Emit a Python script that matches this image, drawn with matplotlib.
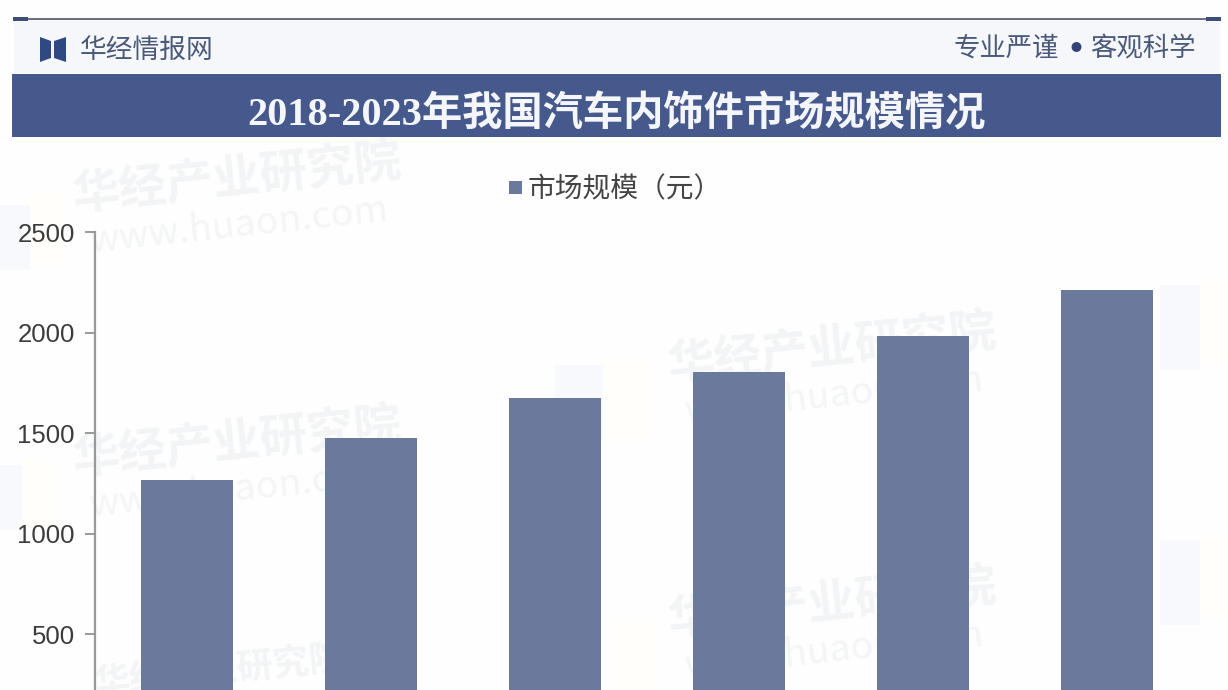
import matplotlib
matplotlib.use('Agg')
import matplotlib.pyplot as plt
from matplotlib.patches import Polygon, Rectangle

plt.rcParams['font.family'] = ['Noto Sans CJK SC', 'DejaVu Sans']

market_size = [1268, 1477, 1677, 1806, 1985, 2214]
y_ticks = [500, 1000, 1500, 2000, 2500]

title = '2018-2023年我国汽车内饰件市场规模情况'
legend_label = '市场规模（元）'

W, H = 1228, 690


def fx(x):
    return x / W


def fy(y):
    return 1 - y / H


fig = plt.figure(figsize=(W / 100, H / 100), dpi=100, facecolor='#fefefe')

# faint watermark blocks and text behind the chart
for x, y, w, h, c in [(0, 205, 30, 65, '#f7f9fd'), (30, 190, 30, 75, '#fffefa'),
                      (0, 465, 22, 65, '#f7f9fd'), (22, 460, 30, 70, '#fffefa'),
                      (555, 365, 48, 75, '#f7f9fd'), (603, 360, 45, 80, '#fffefa'),
                      (1160, 285, 40, 85, '#f7f9fd'), (1200, 280, 28, 85, '#fffefa'),
                      (1160, 540, 40, 85, '#f7f9fd'), (1200, 535, 28, 85, '#fffefa'),
                      (610, 620, 45, 70, '#fffefa')]:
    fig.add_artist(Rectangle((fx(x), fy(y + h)), w / W, h / H, color=c, lw=0, zorder=-2))

for x, y in [(237, 178), (237, 442), (832, 348), (832, 603)]:
    fig.text(fx(x), fy(y), '华经产业研究院', color='#f3f4f6', fontsize=34, fontweight='bold',
             rotation=6, ha='center', va='center', zorder=-1)
    fig.text(fx(x + 3), fy(y + 48), 'www.huaon.com', color='#f4f5f7', fontsize=27,
             rotation=6, ha='center', va='center', zorder=-1)
fig.text(fx(220), fy(672), '华经产业研究院', color='#f3f4f6', fontsize=26, fontweight='bold',
         rotation=6, ha='center', va='center', zorder=-1)

# header
fig.add_artist(Rectangle((fx(14), fy(73)), 1206 / W, 53 / H, color='#f6f7fb', lw=0))
fig.add_artist(Rectangle((fx(12), fy(137)), 1209 / W, 63 / H, color='#46598c', lw=0))
fig.add_artist(Rectangle((fx(14), fy(20)), 1206 / W, 2 / H, color='#6b7080', lw=0))
fig.add_artist(Rectangle((fx(13), fy(21)), 15 / W, 4 / H, color='#3d4d78', lw=0))
fig.add_artist(Rectangle((fx(1206), fy(21)), 15 / W, 4 / H, color='#3d4d78', lw=0))

# book icon
fig.add_artist(Polygon([(fx(40), fy(37)), (fx(51), fy(41)), (fx(51), fy(58)), (fx(40), fy(62))],
                       color='#2f4a80', lw=0))
fig.add_artist(Polygon([(fx(66), fy(37)), (fx(54), fy(41)), (fx(54), fy(58)), (fx(66), fy(62))],
                       color='#2f4a80', lw=0))

fig.text(fx(80), fy(50), '华经情报网', color='#4b5a78', fontsize=19.3, ha='left', va='center')
fig.text(fx(1059), fy(48), '专业严谨', color='#4b5a78', fontsize=19, ha='right', va='center')
fig.text(fx(1076), fy(48), '●', color='#34427a', fontsize=8, ha='center', va='center')
fig.text(fx(1196), fy(48), '客观科学', color='#4b5a78', fontsize=19, ha='right', va='center')
fig.text(fx(616), fy(115), title, color='#f4f6fb', fontsize=29, fontweight='bold',
         family=['Liberation Serif', 'Noto Sans CJK SC'], ha='center', va='center')

# chart axes run past the bottom of the picture, as in the source
ax = fig.add_axes([fx(94.5), fy(735), (1199 - 94.5) / W, (735 - 232) / H])
ax.patch.set_alpha(0)
positions = list(range(len(market_size)))
ax.bar(positions, market_size, width=0.5, color='#6b7a9c')
ax.set_xlim(-0.5, 5.5)
ax.set_ylim(0, 2500)
ax.set_yticks(y_ticks)
ax.set_xticks([])
ax.tick_params(axis='y', length=7.2, width=1.4, color='#999999', labelcolor='#3c3c3c',
               labelsize=18.5, pad=7)
for label in ax.get_yticklabels():
    label.set_family('Liberation Sans')
    label.set_verticalalignment('center_baseline')
for side in ['top', 'right', 'bottom']:
    ax.spines[side].set_visible(False)
ax.spines['left'].set_color('#999999')
ax.spines['left'].set_linewidth(1.6)

# legend
fig.add_artist(Rectangle((fx(509), fy(194)), 13 / W, 13 / H, color='#6b7a9c', lw=0))
fig.text(fx(528), fy(189), legend_label, color='#444444', fontsize=20, ha='left', va='center')

fig.savefig('out.png', dpi=100, facecolor=fig.get_facecolor())
